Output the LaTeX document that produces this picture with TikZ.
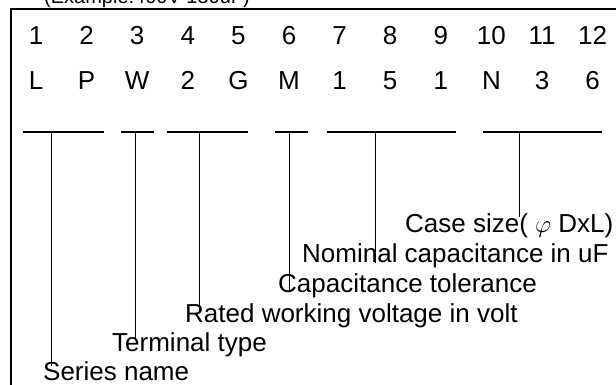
\documentclass[tikz,border=0pt]{standalone}
\usepackage{fontspec}
\setmainfont{Liberation Sans}
\usetikzlibrary{positioning}
\tikzset{
  digit/.style={inner sep=0pt, anchor=base, font=\fontsize{26}{31}\selectfont},
  field/.style={inner sep=0pt, anchor=base west, font=\fontsize{26}{31}\selectfont},
  underbar/.style={line width=1.6pt},
  leader/.style={line width=1pt}
}

\begin{document}
\begin{tikzpicture}[x=1pt,y=-1pt]
  \useasboundingbox (0,0) rectangle (616,385);
  \clip (0,0) rectangle (616,385);
  % frame (runs off the page on the right and below)
  \node[inner sep=0pt, anchor=base west, font=\fontsize{20}{24}\selectfont] (example) at (44,4) {(Example:400V 150uF)};
  \draw[line width=2pt] (11,9) rectangle (640,400);
  % position numbers and code letters
  \foreach \d [count=\i] in {1,2,3,4,5,6,7,8,9,10,11,12}
    \node[digit] (pos_\i) at ({36+(\i-1)*50.6},45) {\d};
  \foreach \c [count=\i] in {L,P,W,2,G,M,1,5,1,N,3,6}
    \node[digit] (code_\i) at ({36+(\i-1)*50.6},90) {\c};
  % underbars with their taps
  \foreach \l/\m/\r [count=\i] in {23/51/104,121/135/154,167/199/248,275/289/308,327/375/456,483/519/602} {
    \coordinate (bar_l\i) at (\l,132);
    \coordinate (tap_\i)  at (\m,132);
    \coordinate (bar_r\i) at (\r,132);
    \draw[underbar] (bar_l\i) -- (bar_r\i);
  }
  % field names
  \node[field] (series)    at (43,380)  {Series name};
  \node[field] (terminal)  at (112,351) {Terminal type};
  \node[field] (voltage)   at (185,322) {Rated working voltage in volt};
  \node[field] (tolerance) at (278,292) {Capacitance tolerance};
  \node[field] (nominal)   at (302,262) {Nominal capacitance in uF};
  \node[field] (casesize)  at (405,232) {Case size( $\varphi$ DxL)};
  % leader ends
  \coordinate (end_1) at (51,366);
  \coordinate (end_2) at (135,340);
  \coordinate (end_3) at (199,312);
  \coordinate (end_4) at (289,290);
  \coordinate (end_5) at (375,263);
  \coordinate (end_6) at (519,217);
  \foreach \i in {1,...,6}
    \draw[leader] (tap_\i) -- (end_\i);
\end{tikzpicture}
\end{document}
